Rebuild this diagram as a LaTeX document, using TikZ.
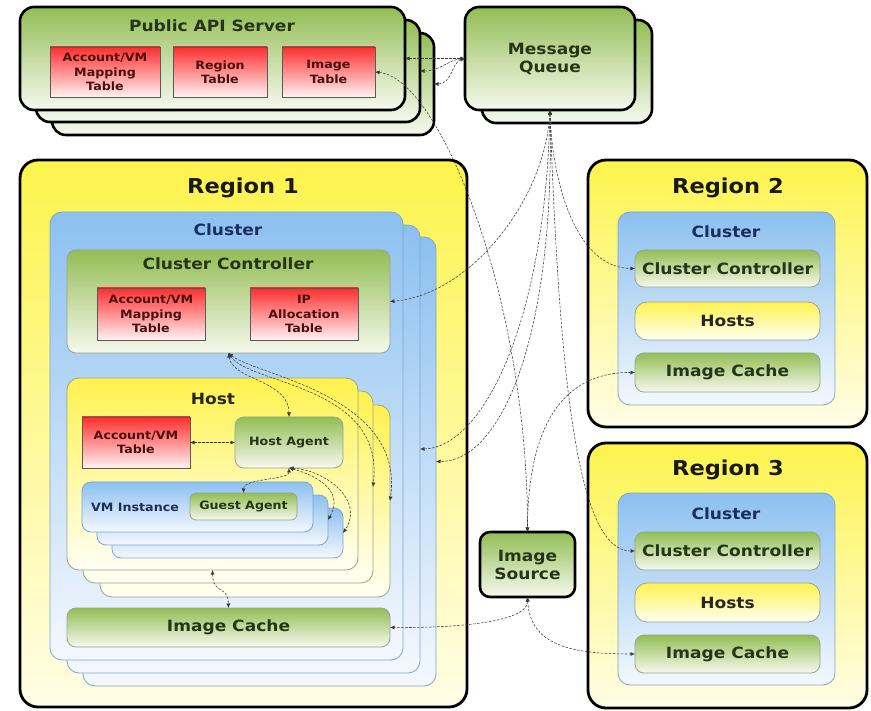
\documentclass[tikz,border=0pt]{standalone}
\usepackage{fontspec}
\setmainfont{DejaVu Sans}[FakeStretch=1.1]
\usetikzlibrary{arrows.meta,calc}
\definecolor{gtop}{HTML}{93BD55}
\definecolor{gbot}{HTML}{F6F9EE}
\definecolor{rtop}{HTML}{FF2E2E}
\definecolor{rbot}{HTML}{FFF2F2}
\definecolor{ytop}{HTML}{FDF44C}
\definecolor{ybot}{HTML}{FFFDE6}
\definecolor{btop}{HTML}{8CC0F0}
\definecolor{bbot}{HTML}{F4F8FD}
\definecolor{htop}{HTML}{FFF24E}
\definecolor{hbot}{HTML}{FFFFF4}
\definecolor{txtg}{HTML}{25351A}
\definecolor{txtr}{HTML}{4A1010}
\definecolor{txtb}{HTML}{1C2E5C}
\definecolor{edgeg}{HTML}{9AA38E}
\definecolor{edgeb}{HTML}{7FA6CC}
\definecolor{connc}{HTML}{3A3A3A}
\begin{document}
\begin{tikzpicture}[x=1pt,y=-1pt,
  base/.style={inner sep=0pt, outer sep=0pt, align=center},
  box/.style n args={4}{base, at={({(#1+#3)/2},{(#2+#4)/2})}, minimum width={(#3-#1)*1pt}, minimum height={(#4-#2)*1pt}},
  big/.style={font=\bfseries\fontsize{20.5}{24}\selectfont},
  mid/.style={font=\bfseries\fontsize{15.5}{18}\selectfont},
  small/.style={font=\bfseries\fontsize{11.5}{14.5}\selectfont},
  greenthick/.style={draw=black, line width=2.6pt, rounded corners=14pt, top color=gtop, bottom color=gbot, mid, text=txtg},
  regionbox/.style={draw=black, line width=2.8pt, rounded corners=18pt, top color=ytop, bottom color=ybot},
  clusterbox/.style={draw=edgeb, line width=0.8pt, rounded corners=12pt, top color=btop, bottom color=bbot},
  greenthin/.style={draw=edgeg, line width=0.8pt, rounded corners=9pt, top color=gtop, bottom color=gbot, mid, text=txtg},
  hostbox/.style={draw=edgeg, line width=0.8pt, rounded corners=12pt, top color=htop, bottom color=hbot, mid, text=black!85},
  vmbox/.style={draw=edgeb, line width=0.8pt, rounded corners=9pt, top color=btop, bottom color=bbot},
  tablebox/.style={draw=gray!70!black, line width=0.6pt, top color=rtop, bottom color=rbot, small, text=txtr},
  titletext/.style={base, mid},
  link/.style={draw=connc, line width=0.55pt, dash pattern=on 2.5pt off 1.5pt, {Latex[length=4.5pt,width=4pt]}-{Latex[length=4.5pt,width=4pt]}}
]
\fill[white] (0,0) rectangle (871,711);
\useasboundingbox (0,0) rectangle (871,711);

% Public API server stack
\node[greenthick, box={52}{33}{434}{135}] (api3) {};
\node[greenthick, box={36}{20}{420}{122}] (api2) {};
\node[greenthick, box={20}{7}{405}{110}] (api1) {};
\node[titletext, text=txtg] (apiT) at (212,26) {Public API Server};
\node[tablebox, box={50}{47}{160}{97}] (tmap) {Account/VM\\Mapping\\Table};
\node[tablebox, box={173}{47}{267}{97}] (treg) {Region\\Table};
\node[tablebox, box={282}{47}{375}{97}] (timg) {Image\\Table};

% Message queue
\node[greenthick, box={482}{20}{652}{123}] (mq2) {};
\node[greenthick, box={465}{7}{635}{110}] (mq1) {Message\\Queue};

% Region 1
\node[regionbox, box={20}{160}{467}{707}] (r1) {};
\node[base, big, text=black!90] (r1T) at (243,188) {Region 1};
\node[clusterbox, box={83}{237}{436}{686}] (cl1c) {};
\node[clusterbox, box={67}{225}{420}{673}] (cl1b) {};
\node[clusterbox, box={50}{212}{403}{660}] (cl1a) {};
\node[titletext, text=txtb] (cl1T) at (228,230) {Cluster};
\node[greenthin, box={67}{250}{390}{353}] (cc1) {};
\node[titletext, text=txtg] (cc1T) at (228,264) {Cluster Controller};
\node[tablebox, box={97}{288}{205}{340}] (tacc1) {Account/VM\\Mapping\\Table};
\node[tablebox, box={250}{288}{358}{340}] (tip) {IP\\Allocation\\Table};
\node[hostbox, box={100}{405}{390}{597}] (host3) {};
\node[hostbox, box={83}{391}{373}{583}] (host2) {};
\node[hostbox, box={67}{378}{358}{570}] (host1) {};
\node[titletext, text=black!85] (hostT) at (213,399) {Host};
\node[tablebox, box={82}{417}{190}{468}] (tacc2) {Account/VM\\Table};
\node[greenthin, small, box={235}{417}{343}{468}] (hagent) {Host Agent};
\node[vmbox, box={112}{508}{343}{558}] (vm3) {};
\node[vmbox, box={97}{495}{328}{545}] (vm2) {};
\node[vmbox, box={82}{482}{313}{532}] (vm1) {};
\node[base, small, text=txtb] (vmT) at (135,507) {VM Instance};
\node[greenthin, small, rounded corners=6pt, box={190}{493}{297}{520}] (gagent) {Guest Agent};
\node[greenthin, box={67}{608}{390}{647}] (ic1) {Image Cache};

% Region 2
\node[regionbox, box={588}{160}{867}{427}] (r2) {};
\node[base, big, text=black!90] (r2T) at (728,188) {Region 2};
\node[clusterbox, box={618}{212}{835}{405}] (cl2) {};
\node[titletext, text=txtb] (cl2T) at (726,232) {Cluster};
\node[greenthin, box={635}{250}{820}{287}] (cc2) {Cluster Controller};
\node[hostbox, box={635}{302}{820}{340}] (hosts2) {Hosts};
\node[greenthin, box={635}{353}{820}{392}] (ic2) {Image Cache};

% Region 3
\node[regionbox, box={588}{443}{867}{708}] (r3) {};
\node[base, big, text=black!90] (r3T) at (728,470) {Region 3};
\node[clusterbox, box={618}{493}{835}{685}] (cl3) {};
\node[titletext, text=txtb] (cl3T) at (726,514) {Cluster};
\node[greenthin, box={635}{532}{820}{570}] (cc3) {Cluster Controller};
\node[hostbox, box={635}{583}{820}{622}] (hosts3) {Hosts};
\node[greenthin, box={635}{635}{820}{673}] (ic3) {Image Cache};

% Image source
\node[greenthick, rounded corners=10pt, box={480}{532}{575}{597}] (src) {Image\\Source};

% connectors: public API <-> message queue
\draw[link] (api1.east) -- (mq1.west);
\draw[link] (mq1.west) .. controls (448,60) and (440,71) .. (api2.east);
\draw[link] (mq1.west) .. controls (452,62) and (452,84) .. (api3.east);
\draw[link] (timg.east) .. controls (440,78) and (528,300) .. (src.north);

% message queue fan
\draw[link] (mq1.south) .. controls (545,200) and (470,295) .. (cc1.east);
\draw[link] (mq1.south) .. controls (552,180) and (575,268) .. (cc2.west);
\draw[link] (mq1.south) .. controls (560,400) and (580,551) .. (cc3.west);
\draw[link] (mq1.south) .. controls (545,330) and (480,448) .. (cl1b.east);
\draw[link] (mq1.south) .. controls (555,340) and (500,462) .. (cl1c.east);

% image source links
\draw[link] (ic2.west) .. controls (560,372) and (528,430) .. (src.north);
\draw[link] (src.south) .. controls (528,620) and (470,628) .. (ic1.east);
\draw[link] (src.south) .. controls (530,645) and (570,654) .. (ic3.west);

% region 1 internal
\draw[link] (cc1.south) .. controls (232,380) and (289,380) .. (hagent.north);
\draw[link] (cc1.south) .. controls (250,385) and (385,385) .. (host2.east);
\draw[link] (cc1.south) .. controls (255,375) and (405,395) .. (host3.east);
\draw[link] (tacc2.east) -- (hagent.west);
\draw[link] (hagent.south) .. controls (289,480) and (244,478) .. (gagent.north);
\draw[link] (hagent.south) .. controls (315,475) and (345,490) .. (vm2.east);
\draw[link] (hagent.south) .. controls (325,470) and (365,500) .. (vm3.east);
\draw[link] (host1.south) .. controls (213,595) and (228,585) .. (ic1.north);
\end{tikzpicture}
\end{document}
